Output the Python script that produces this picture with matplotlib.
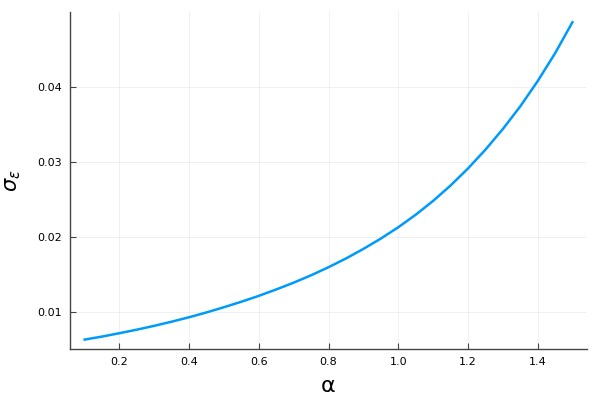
import matplotlib
matplotlib.use('Agg')
import matplotlib.pyplot as plt

# values
alpha = [0.10, 0.15, 0.20, 0.25, 0.30, 0.35, 0.40, 0.45, 0.50, 0.55,
         0.60, 0.65, 0.70, 0.75, 0.80, 0.85, 0.90, 0.95, 1.00, 1.05,
         1.10, 1.15, 1.20, 1.25, 1.30, 1.35, 1.40, 1.45, 1.50]
sigma_eps = [0.00640, 0.00680, 0.00725, 0.00772, 0.00823, 0.00878, 0.00937, 0.01001, 0.01070, 0.01143,
             0.01221, 0.01306, 0.01396, 0.01494, 0.01601, 0.01717, 0.01844, 0.01981, 0.02131, 0.02297,
             0.02481, 0.02685, 0.02911, 0.03160, 0.03434, 0.03735, 0.04070, 0.04440, 0.04854]

x_ticks = [0.2, 0.4, 0.6, 0.8, 1.0, 1.2, 1.4]
y_ticks = [0.01, 0.02, 0.03, 0.04]

fig = plt.figure(figsize=(6, 4), dpi=100)
ax = fig.add_axes([0.1167, 0.1275, 0.8617, 0.8425])

ax.plot(alpha, sigma_eps, color='#009AFA', linewidth=1.8)

ax.set_xlim(0.058, 1.542)
ax.set_ylim(0.00515, 0.0499)
ax.set_xticks(x_ticks)
ax.set_yticks(y_ticks)
ax.set_xticklabels([f'{t:.1f}' for t in x_ticks])
ax.set_yticklabels([f'{t:.2f}' for t in y_ticks])

ax.grid(True, color='black', alpha=0.07, linewidth=0.6)
ax.set_axisbelow(True)
for side in ['top', 'right']:
    ax.spines[side].set_visible(False)
for side in ['left', 'bottom']:
    ax.spines[side].set_color('#444444')
    ax.spines[side].set_linewidth(1.0)
ax.tick_params(direction='in', length=4, width=0.8, color='#444444', labelsize=8, pad=6)

ax.set_xlabel('α', fontsize=16, labelpad=6)
ax.set_ylabel(r'$\sigma_\varepsilon$', fontsize=15, labelpad=10)

plt.savefig('out.png', dpi=100)
